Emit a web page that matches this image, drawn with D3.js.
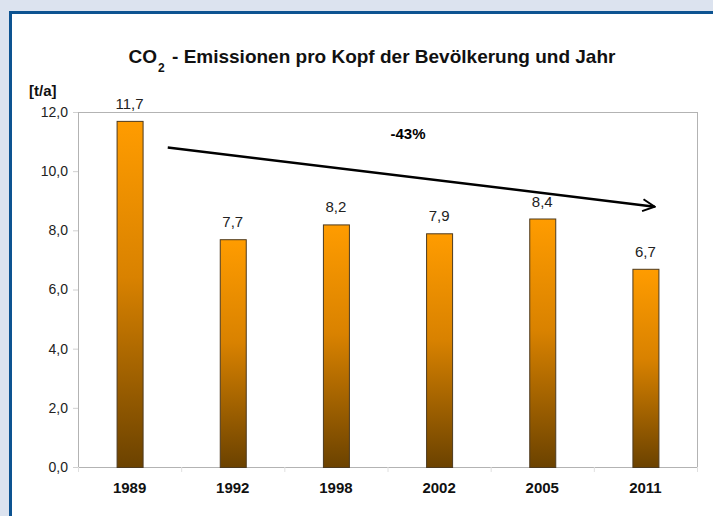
<!DOCTYPE html>
<html>
<head>
<meta charset="utf-8">
<script src="https://cdn.jsdelivr.net/npm/d3@7"></script>
<style>
  body { margin: 0; background: #dce3ef; }
  svg { display: block; font-family: "Liberation Sans", Arial, sans-serif; }
</style>
</head>
<body>
<div id="chart"></div>
<script>
// data
var years = ["1989", "1992", "1998", "2002", "2005", "2011"];
var values = [11.7, 7.7, 8.2, 7.9, 8.4, 6.7];
var yTicks = [0, 2, 4, 6, 8, 10, 12];
var trendLabel = "-43%";
// arrow in data units: [band offset, value]
var trendFrom = [0.87, 10.8];
var trendTo = [5.59, 8.8];

var width = 713, height = 516;
var margin = { top: 112, right: 16, bottom: 49, left: 78 };

var svg = d3.select("#chart").append("svg")
  .attr("width", width)
  .attr("height", height);

// panel with blue frame
svg.append("rect").attr("width", width).attr("height", height).attr("fill", "#dce3ef");
svg.append("rect")
  .attr("x", 10.5).attr("y", 12.5)
  .attr("width", width).attr("height", height)
  .attr("fill", "#fff")
  .attr("stroke", "#0d5391")
  .attr("stroke-width", 3);

var x = d3.scaleBand()
  .domain(years)
  .range([margin.left, width - margin.right]);

var y = d3.scaleLinear()
  .domain([0, 12])
  .range([height - margin.bottom, margin.top]);

var defs = svg.append("defs");
var grad = defs.append("linearGradient")
  .attr("id", "barGrad")
  .attr("x1", 0).attr("y1", 0).attr("x2", 0).attr("y2", 1);
grad.append("stop").attr("offset", "0%").attr("stop-color", "#ff9c00");
grad.append("stop").attr("offset", "45%").attr("stop-color", "#d98200");
grad.append("stop").attr("offset", "100%").attr("stop-color", "#6b4200");

var marker = defs.append("marker")
  .attr("id", "arrow")
  .attr("viewBox", "0 0 10 10")
  .attr("refX", 9).attr("refY", 5)
  .attr("markerWidth", 6).attr("markerHeight", 6)
  .attr("markerUnits", "strokeWidth")
  .attr("orient", "auto");
marker.append("path")
  .attr("d", "M1,1 L9,5 L1,9")
  .attr("fill", "none")
  .attr("stroke", "#000")
  .attr("stroke-width", 1.3);

// plot frame
svg.append("rect")
  .attr("x", margin.left + 0.5)
  .attr("y", y(12) + 0.5)
  .attr("width", width - margin.right - margin.left)
  .attr("height", y(0) - y(12))
  .attr("fill", "none")
  .attr("stroke", "#b3b3b3");

function yAxis(g) {
  g.attr("transform", `translate(${margin.left}, 0)`)
    .call(d3.axisLeft(y).tickValues(yTicks).tickSize(5).tickPadding(5)
      .tickFormat((d) => d3.format(".1f")(d).replace(".", ",")))
    .call((g) => g.select(".domain").remove());
  g.selectAll(".tick line").attr("stroke", "#d0d0d0");
  g.selectAll("text").attr("font-size", 14).attr("fill", "#222")
    .attr("font-family", "Liberation Sans, Arial, sans-serif");
}

function xAxis(g) {
  g.attr("transform", `translate(0, ${height - margin.bottom})`)
    .call(d3.axisBottom(x).tickSize(0).tickPadding(15))
    .call((g) => g.select(".domain").remove());
  g.selectAll("text").attr("font-size", 15).attr("font-weight", "bold")
    .attr("fill", "#111")
    .attr("font-family", "Liberation Sans, Arial, sans-serif");
}

svg.append("g").attr("class", "yAxis").call(yAxis);
svg.append("g").attr("class", "xAxis").call(xAxis);

// small ticks between categories below axis
svg.append("g")
  .selectAll("line")
  .data(years.concat(["end"]))
  .join("line")
  .attr("x1", (d, i) => margin.left + i * x.step() + 0.5)
  .attr("x2", (d, i) => margin.left + i * x.step() + 0.5)
  .attr("y1", y(0))
  .attr("y2", y(0) + 5)
  .attr("stroke", "#e0e0e0");

var bw = 26;
svg.append("g").attr("class", "bars")
  .selectAll("rect")
  .data(values)
  .join("rect")
  .attr("x", (d, i) => x(years[i]) + x.bandwidth() / 2 - bw / 2 + 0.5)
  .attr("y", (d) => y(d) + 0.5)
  .attr("width", bw)
  .attr("height", (d) => y(0) - y(d))
  .attr("fill", "url(#barGrad)")
  .attr("stroke", "#4d3a1f")
  .attr("stroke-width", 1);

svg.append("g").attr("class", "labels")
  .selectAll("text")
  .data(values)
  .join("text")
  .attr("x", (d, i) => x(years[i]) + x.bandwidth() / 2)
  .attr("y", (d) => y(d) - 12)
  .attr("text-anchor", "middle")
  .attr("font-size", 15)
  .attr("fill", "#222")
  .text((d) => d3.format(".1f")(d).replace(".", ","));

// trend arrow
svg.append("line")
  .attr("x1", margin.left + trendFrom[0] * x.step())
  .attr("y1", y(trendFrom[1]))
  .attr("x2", margin.left + trendTo[0] * x.step())
  .attr("y2", y(trendTo[1]))
  .attr("stroke", "#000")
  .attr("stroke-width", 2.5)
  .attr("marker-end", "url(#arrow)");

svg.append("text")
  .attr("x", 408)
  .attr("y", 139)
  .attr("text-anchor", "middle")
  .attr("font-size", 15)
  .attr("font-weight", "bold")
  .text(trendLabel);

// title
var title = svg.append("text")
  .attr("x", 372)
  .attr("y", 63)
  .attr("text-anchor", "middle")
  .attr("font-size", 19)
  .attr("font-weight", "bold")
  .attr("fill", "#111");
title.append("tspan").text("CO");
title.append("tspan").attr("font-size", 12).attr("dy", 9).attr("dx", 1).text("2");
title.append("tspan").attr("dy", -9).attr("dx", 2).text(" - Emissionen pro Kopf der Bevölkerung und Jahr");

svg.append("text")
  .attr("x", 29)
  .attr("y", 96)
  .attr("font-size", 15)
  .attr("font-weight", "bold")
  .attr("fill", "#111")
  .text("[t/a]");
</script>
</body>
</html>
